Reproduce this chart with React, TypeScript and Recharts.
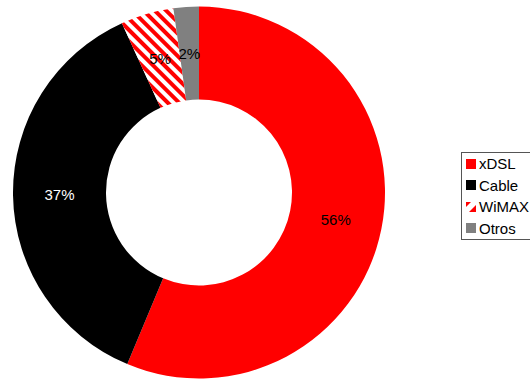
import React from 'react';
import { PieChart, Pie, Cell, Legend } from 'recharts';

const categories = ['xDSL', 'Cable', 'WiMAX', 'Otros'];
const values = [56.3, 36.9, 4.6, 2.2];
const fills = ['#ff0000', '#000000', 'url(#wimaxStripes)', '#808080'];
const labelColors = ['#000000', '#ffffff', '#000000', '#000000'];

const data = categories.map((name, i) => ({ name, value: values[i] }));

const RAD = Math.PI / 180;
const FONT = '"Liberation Sans", Arial, sans-serif';

const renderLabel = (props: any) => {
  const { cx, cy, midAngle, innerRadius, outerRadius, percent, index } = props;
  const r = (innerRadius + outerRadius) / 2;
  const x = cx + r * Math.cos(-midAngle * RAD);
  const y = cy + r * Math.sin(-midAngle * RAD);
  return (
    <text
      x={x}
      y={y}
      textAnchor="middle"
      dominantBaseline="central"
      fill={labelColors[index]}
      fontSize={15}
      fontFamily={FONT}
    >
      {`${Math.round(percent * 100)}%`}
    </text>
  );
};

const LegendBox = () => (
  <div
    style={{
      border: '1px solid #555',
      background: '#fff',
      padding: '0 20px 0 4px',
      fontFamily: FONT,
      fontSize: 15,
      lineHeight: '21.5px',
      width: 80,
      boxSizing: 'border-box',
    }}
  >
    {categories.map((c, i) => (
      <div key={c} style={{ display: 'flex', alignItems: 'center', whiteSpace: 'nowrap', height: 21.5 }}>
        <svg width={10} height={10} style={{ marginRight: 3, flex: 'none' }}>
          <rect width={10} height={10} fill={fills[i].startsWith('url') ? 'url(#wimaxLegend)' : fills[i]} />
        </svg>
        <span>{c}</span>
      </div>
    ))}
  </div>
);

export default function App() {
  return (
    <div style={{ position: 'absolute', left: 0, top: 0, width: 530, height: 379, overflow: 'hidden', background: '#fff' }}>
      <svg width={0} height={0} style={{ position: 'absolute' }}>
        <defs>
          <pattern id="wimaxLegend" patternUnits="userSpaceOnUse" width={10} height={10}>
            <rect width={10} height={10} fill="#fff" />
            <polygon points="0,0 5,0 0,5" fill="#ff0000" />
            <polygon points="10,3 10,10 3,10" fill="#ff0000" />
          </pattern>
        </defs>
      </svg>
      <PieChart width={530} height={379} margin={{ top: 0, right: 0, bottom: 0, left: 0 }}>
        <defs>
          <pattern
            id="wimaxStripes"
            patternUnits="userSpaceOnUse"
            width={8}
            height={8}
            patternTransform="rotate(45)"
          >
            <rect width={8} height={8} fill="#fff" />
            <rect width={8} height={4} fill="#ff0000" />
          </pattern>
        </defs>
        <Pie
          data={data}
          dataKey="value"
          nameKey="name"
          cx={199}
          cy={192.5}
          innerRadius={93}
          outerRadius={186}
          startAngle={90}
          endAngle={-270}
          stroke="none"
          label={renderLabel}
          labelLine={false}
          isAnimationActive={false}
        >
          {data.map((d, i) => (
            <Cell key={d.name} fill={fills[i]} />
          ))}
        </Pie>
        <Legend
          layout="vertical"
          align="right"
          verticalAlign="middle"
          content={<LegendBox />}
          wrapperStyle={{ position: 'absolute', left: 461, top: 152, right: 'auto', width: 80 }}
        />
      </PieChart>
    </div>
  );
}
